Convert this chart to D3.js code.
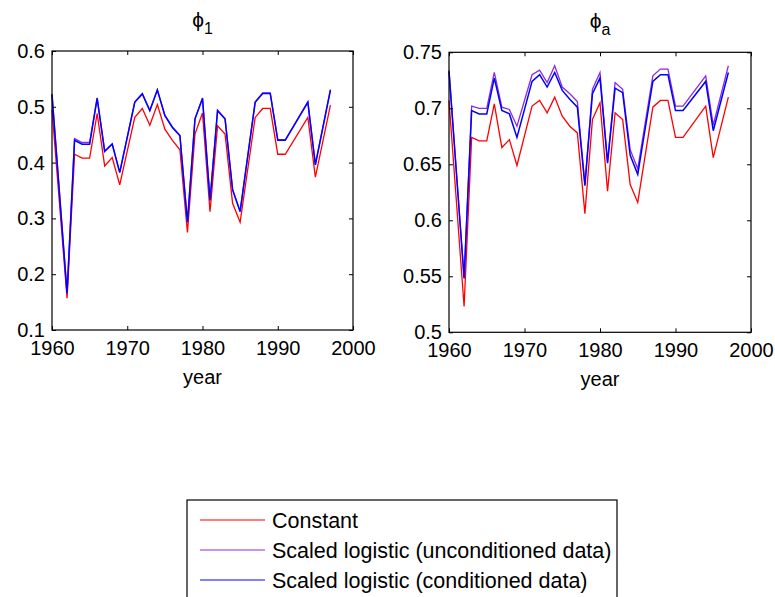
<!DOCTYPE html>
<html><head><meta charset="utf-8">
<script src="https://cdn.jsdelivr.net/npm/d3@7"></script>
<style>
html,body{margin:0;padding:0;background:#fff;}
text{font-family:"Liberation Sans",Arial,Helvetica,sans-serif;fill:#000;}
</style></head>
<body>
<svg id="chart" width="775" height="597"></svg>
<script>
// ---- data ----
const years = [1960,1962,1963,1964,1965,1966,1967,1968,1969,1971,1972,1973,1974,1975,1976,1977,1978,1979,1980,1981,1982,1983,1984,1985,1987,1988,1989,1990,1991,1994,1995,1997];

// phi_1
const phi1Constant = [0.495,0.157,0.415,0.408,0.408,0.488,0.394,0.409,0.360,0.481,0.497,0.467,0.504,0.460,0.440,0.423,0.275,0.451,0.489,0.312,0.466,0.451,0.327,0.293,0.481,0.497,0.497,0.415,0.415,0.481,0.374,0.503];
const phi1Uncond   = [0.523,0.166,0.443,0.436,0.436,0.516,0.421,0.434,0.383,0.509,0.524,0.494,0.531,0.485,0.464,0.449,0.294,0.479,0.516,0.333,0.494,0.479,0.352,0.313,0.509,0.525,0.525,0.441,0.441,0.509,0.397,0.531];
const phi1Cond     = [0.522,0.166,0.440,0.433,0.433,0.515,0.420,0.433,0.382,0.508,0.523,0.493,0.530,0.484,0.463,0.448,0.293,0.478,0.515,0.332,0.493,0.478,0.351,0.312,0.508,0.524,0.524,0.440,0.440,0.508,0.396,0.530];

// phi_a
const phiaConstant = [0.707,0.523,0.674,0.671,0.671,0.704,0.665,0.672,0.649,0.702,0.707,0.696,0.710,0.693,0.684,0.678,0.606,0.690,0.705,0.626,0.696,0.690,0.632,0.616,0.701,0.707,0.707,0.674,0.674,0.702,0.656,0.710];
const phiaUncond   = [0.734,0.549,0.702,0.700,0.700,0.732,0.701,0.699,0.684,0.730,0.734,0.723,0.738,0.719,0.713,0.706,0.632,0.717,0.732,0.652,0.723,0.717,0.663,0.646,0.729,0.735,0.735,0.702,0.702,0.729,0.685,0.738];
const phiaCond     = [0.733,0.548,0.698,0.695,0.695,0.727,0.698,0.695,0.674,0.724,0.730,0.719,0.732,0.716,0.708,0.701,0.631,0.713,0.727,0.651,0.718,0.714,0.658,0.641,0.724,0.730,0.730,0.698,0.698,0.724,0.680,0.732];

const xTicks = [1960,1970,1980,1990,2000];
const yTicks1 = [0.1,0.2,0.3,0.4,0.5,0.6];
const yTicksA = [0.5,0.55,0.6,0.65,0.7,0.75];

const seriesNames = ["Constant","Scaled logistic (unconditioned data)","Scaled logistic (conditioned data)"];
const seriesColors = ["#ff0000","#8a2be2","#0000ff"];

// ---- drawing ----
const svg = d3.select("#chart");

function panel(opts){
  const {left,right,top,bottom,yDomain,yTicks,series,titleMain,titleSub} = opts;
  const x = d3.scaleLinear().domain([1960,2000]).range([left,right]);
  const y = d3.scaleLinear().domain(yDomain).range([bottom,top]);
  const g = svg.append("g");

  const line = d3.line().x((d,i)=>x(years[i])).y(d=>y(d));
  series.forEach((s,k)=>{
    g.append("path").datum(s).attr("d",line)
      .attr("fill","none").attr("stroke",seriesColors[k])
      .attr("stroke-width",k===2?1.5:1.3).attr("stroke-linejoin","miter");
  });

  const tl = 4;
  const xb = d3.axisBottom(x).tickValues(xTicks).tickFormat(d3.format("d")).tickSizeInner(-tl).tickSizeOuter(0).tickPadding(11);
  const ga = g.append("g").attr("transform",`translate(0,${bottom})`).call(xb);
  const xt = d3.axisTop(x).tickValues(xTicks).tickFormat("").tickSizeInner(-tl).tickSizeOuter(0);
  const gt = g.append("g").attr("transform",`translate(0,${top})`).call(xt);
  const yl = d3.axisLeft(y).tickValues(yTicks).tickFormat(d=>String(+d.toFixed(2))).tickSizeInner(-tl).tickSizeOuter(0).tickPadding(7);
  const gl = g.append("g").attr("transform",`translate(${left},0)`).call(yl);
  const yr = d3.axisRight(y).tickValues(yTicks).tickFormat("").tickSizeInner(-tl).tickSizeOuter(0);
  const gr = g.append("g").attr("transform",`translate(${right},0)`).call(yr);
  [ga,gt,gl,gr].forEach(a=>{
    a.selectAll(".domain").remove();
    a.selectAll("line").attr("stroke","#000").attr("stroke-width",1);
    a.selectAll("text").attr("font-size",20).attr("font-family","Liberation Sans, Arial, sans-serif").attr("fill","#000");
  });
  g.append("rect").attr("x",left).attr("y",top).attr("width",right-left).attr("height",bottom-top)
    .attr("fill","none").attr("stroke","#000").attr("stroke-width",1.2);

  const t = g.append("text").attr("x",(left+right)/2).attr("y",top-24).attr("text-anchor","middle").attr("font-size",21);
  t.append("tspan").text(titleMain);
  t.append("tspan").attr("font-size",16).attr("dy",7).text(titleSub);

  g.append("text").attr("x",(left+right)/2).attr("y",bottom+54).attr("text-anchor","middle").attr("font-size",20).text("year");
}

panel({left:52,right:353,top:51,bottom:330,yDomain:[0.1,0.6],yTicks:yTicks1,
  series:[phi1Constant,phi1Uncond,phi1Cond],titleMain:"ϕ",titleSub:"1"});
panel({left:449,right:751,top:52.3,bottom:332.3,yDomain:[0.5,0.75],yTicks:yTicksA,
  series:[phiaConstant,phiaUncond,phiaCond],titleMain:"ϕ",titleSub:"a"});

// legend
const lg = svg.append("g");
lg.append("rect").attr("x",187).attr("y",500).attr("width",430).attr("height",110)
  .attr("fill","#fff").attr("stroke","#000").attr("stroke-width",1.2);
seriesNames.forEach((name,k)=>{
  const yy = 520 + k*30;
  lg.append("line").attr("x1",200).attr("x2",265).attr("y1",yy).attr("y2",yy)
    .attr("stroke",seriesColors[k]).attr("stroke-width",1.2);
  lg.append("text").attr("x",272).attr("y",yy).attr("dy","0.35em").attr("font-size",21.5).text(name);
});
</script>
</body></html>
